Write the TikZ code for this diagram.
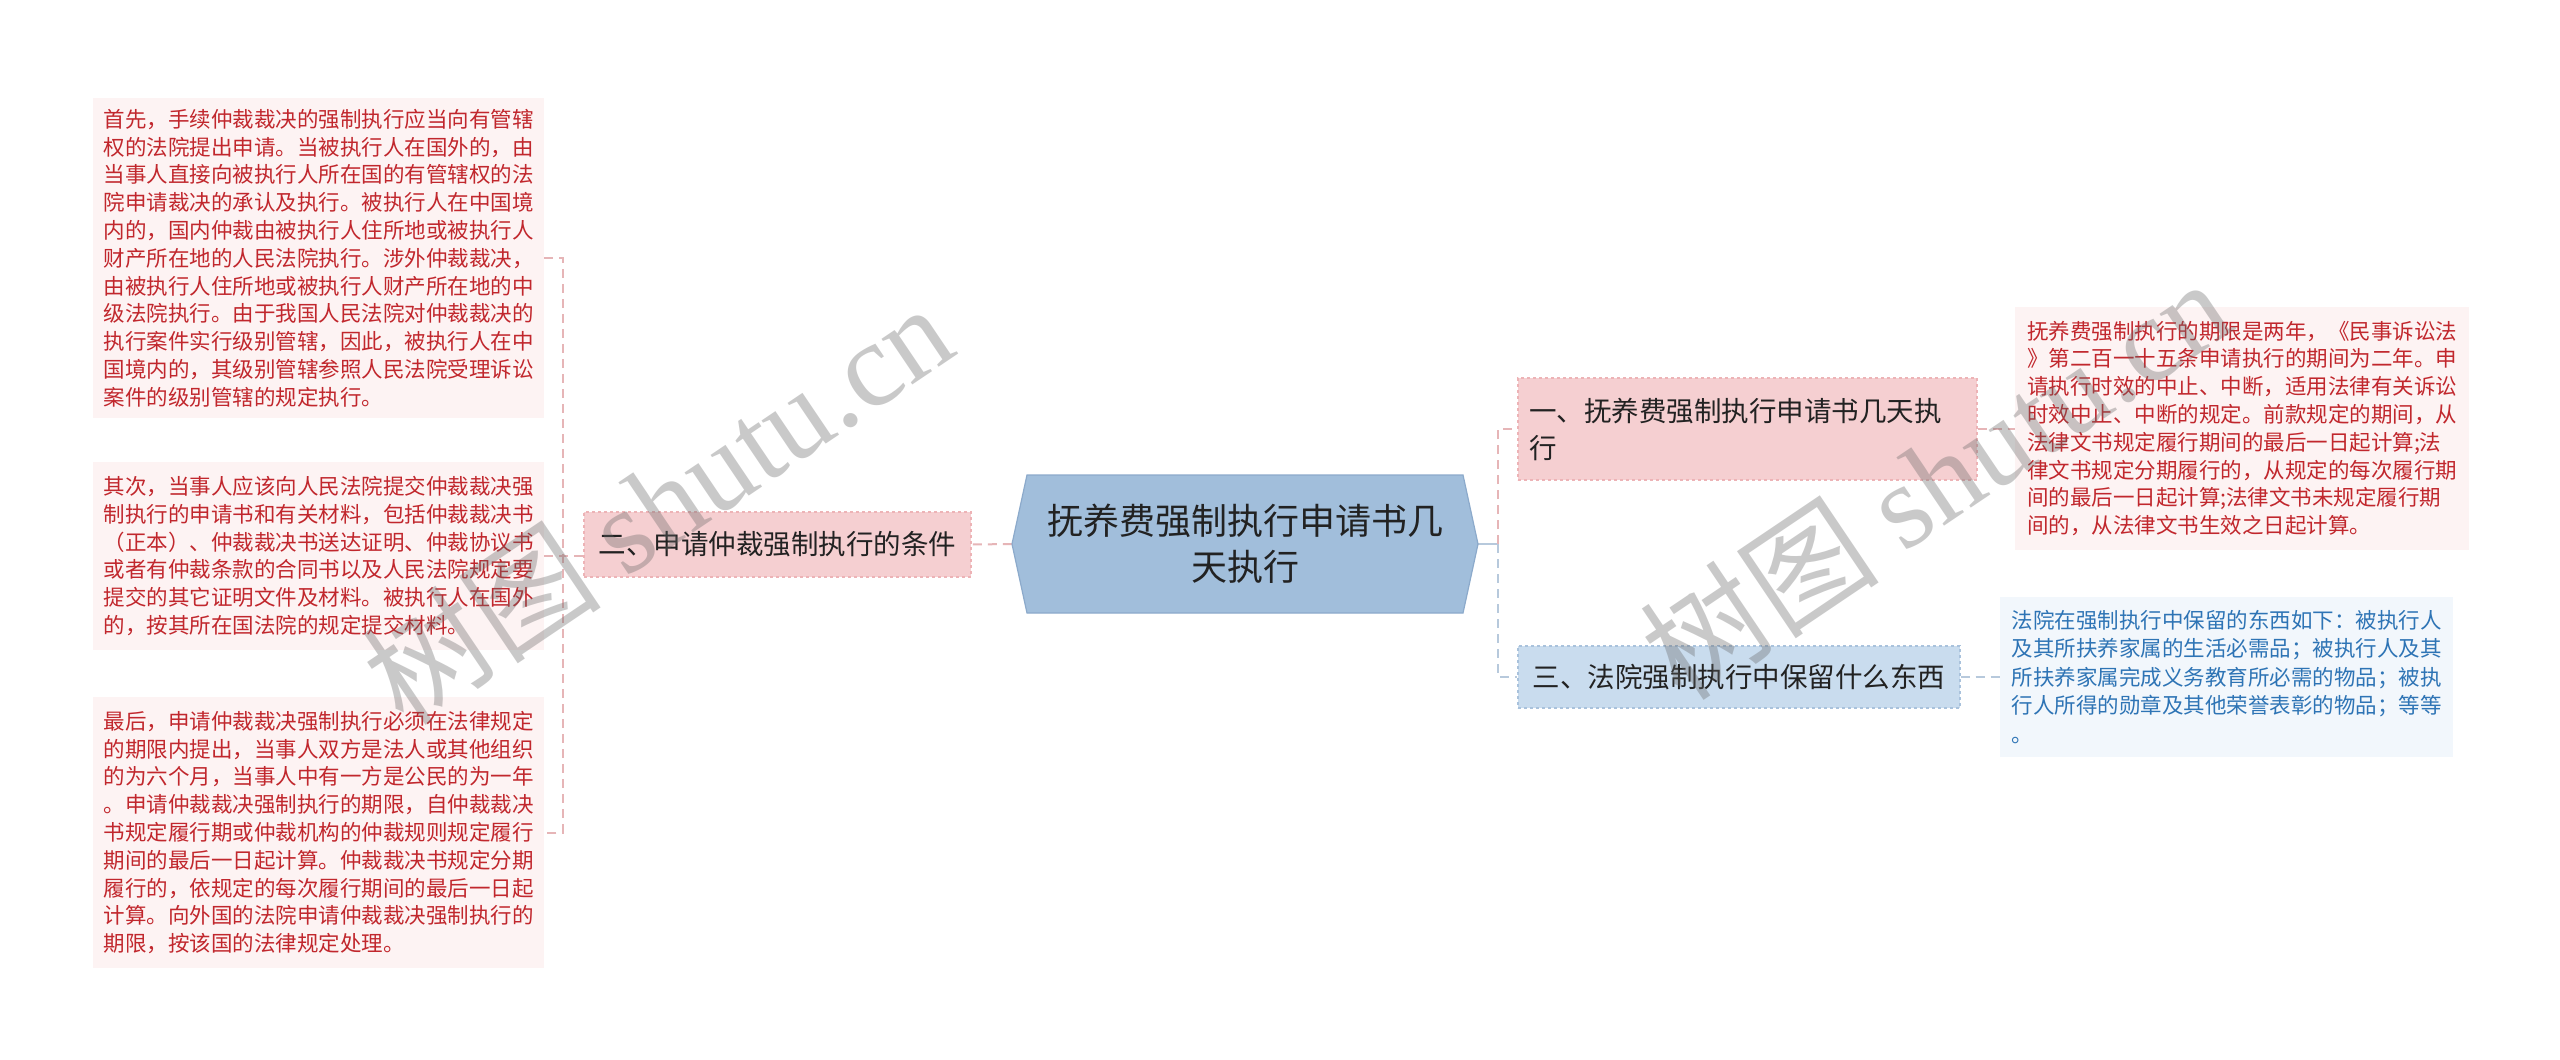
\documentclass[tikz,border=0pt]{standalone}
\usepackage{fontspec}
\setmainfont{Noto Sans CJK SC}
\newfontfamily\wmlatin{Liberation Serif}
\usetikzlibrary{calc,backgrounds}
\definecolor{pinknode}{HTML}{F5CFD1}
\definecolor{pinkborder}{HTML}{EDB3B6}
\definecolor{pinkleaf}{HTML}{FDF3F3}
\definecolor{redtxt}{HTML}{C1272D}
\definecolor{bluenode}{HTML}{C9DCEE}
\definecolor{blueborder}{HTML}{A9C2DC}
\definecolor{blueleaf}{HTML}{F2F7FC}
\definecolor{bluetxt}{HTML}{2E74B5}
\definecolor{rootfill}{HTML}{A1BEDB}
\definecolor{rootborder}{HTML}{8CAACB}
\definecolor{pinkline}{HTML}{E6B5B7}
\definecolor{blueline}{HTML}{B7C9DC}
\definecolor{nodetxt}{HTML}{222222}
\begin{document}
\begin{tikzpicture}[x=1pt,y=-1pt,
  leafred/.style={fill=pinkleaf, text=redtxt, font=\fontsize{21.5}{27.8}\selectfont, align=left, inner sep=0pt},
  leafblue/.style={fill=blueleaf, text=bluetxt, font=\fontsize{21.5}{28.5}\selectfont, align=left, inner sep=0pt},
  pinkbox/.style={fill=pinknode, draw=pinkborder, dashed, line width=1.2pt, text=nodetxt, font=\fontsize{27.5}{37}\selectfont, inner sep=0pt},
  bluebox/.style={fill=bluenode, draw=blueborder, dashed, line width=1.2pt, text=nodetxt, font=\fontsize{27.5}{37}\selectfont, inner sep=0pt},
  rootbox/.style={text=nodetxt, font=\fontsize{36}{46}\selectfont, align=center, inner sep=0pt},
  pinkconn/.style={draw=pinkline, line width=2pt, dash pattern=on 9pt off 6pt},
  blueconn/.style={draw=blueline, line width=2pt, dash pattern=on 9pt off 6pt},
  wm/.style={text=black!60, text opacity=0.35, font=\fontsize{120}{120}\selectfont, inner sep=0pt}
]
\useasboundingbox (0,0) rectangle (2560,1060);

% central topic
\filldraw[fill=rootfill, draw=rootborder, line width=1.2pt]
  (1012,544) -- (1027,475) -- (1463,475) -- (1478,544) -- (1463,613) -- (1027,613) -- cycle;
\node[rootbox, minimum width=466, minimum height=138] (root) at (1245,544)
  {抚养费强制执行申请书几\\天执行};

% left branch
\node[pinkbox, minimum width=387, minimum height=65] (er) at (777.5,544.5)
  {二、申请仲裁强制执行的条件};

\node[leafred, minimum width=451, minimum height=320] (l1) at (318.5,258)
  {首先，手续仲裁裁决的强制执行应当向有管辖\\
   权的法院提出申请。当被执行人在国外的，由\\
   当事人直接向被执行人所在国的有管辖权的法\\
   院申请裁决的承认及执行。被执行人在中国境\\
   内的，国内仲裁由被执行人住所地或被执行人\\
   财产所在地的人民法院执行。涉外仲裁裁决，\\
   由被执行人住所地或被执行人财产所在地的中\\
   级法院执行。由于我国人民法院对仲裁裁决的\\
   执行案件实行级别管辖，因此，被执行人在中\\
   国境内的，其级别管辖参照人民法院受理诉讼\\
   案件的级别管辖的规定执行。};

\node[leafred, minimum width=451, minimum height=188] (l2) at (318.5,556)
  {其次，当事人应该向人民法院提交仲裁裁决强\\
   制执行的申请书和有关材料，包括仲裁裁决书\\
   （正本）、仲裁裁决书送达证明、仲裁协议书\\
   或者有仲裁条款的合同书以及人民法院规定要\\
   提交的其它证明文件及材料。被执行人在国外\\
   的，按其所在国法院的规定提交材料。};

\node[leafred, minimum width=451, minimum height=271] (l3) at (318.5,832.5)
  {最后，申请仲裁裁决强制执行必须在法律规定\\
   的期限内提出，当事人双方是法人或其他组织\\
   的为六个月，当事人中有一方是公民的为一年\\
   。申请仲裁裁决强制执行的期限，自仲裁裁决\\
   书规定履行期或仲裁机构的仲裁规则规定履行\\
   期间的最后一日起计算。仲裁裁决书规定分期\\
   履行的，依规定的每次履行期间的最后一日起\\
   计算。向外国的法院申请仲裁裁决强制执行的\\
   期限，按该国的法律规定处理。};

% right branches
\node[pinkbox, minimum width=459, minimum height=102, text width=437, align=left] (n1) at (1747.5,429)
  {一、抚养费强制执行申请书几天执\\行};

\node[bluebox, minimum width=442, minimum height=62] (n3) at (1739,677)
  {三、法院强制执行中保留什么东西};

\node[leafred, minimum width=454, minimum height=243] (r1) at (2242,428.5)
  {抚养费强制执行的期限是两年，《民事诉讼法\\
   》第二百一十五条申请执行的期间为二年。申\\
   请执行时效的中止、中断，适用法律有关诉讼\\
   时效中止、中断的规定。前款规定的期间，从\\
   法律文书规定履行期间的最后一日起计算;法\\
   律文书规定分期履行的，从规定的每次履行期\\
   间的最后一日起计算;法律文书未规定履行期\\
   间的，从法律文书生效之日起计算。};

\node[leafblue, minimum width=453, minimum height=160] (r2) at (2226.5,677)
  {法院在强制执行中保留的东西如下：被执行人\\
   及其所扶养家属的生活必需品；被执行人及其\\
   所扶养家属完成义务教育所必需的物品；被执\\
   行人所得的勋章及其他荣誉表彰的物品；等等\\
   。};

% connectors
\coordinate (vl) at (563,0);
\coordinate (vr) at (1498,0);
\begin{pgfonlayer}{background}
  \fill[white] (0,0) rectangle (2560,1060);
  \draw[pinkconn] (root.west) -- (er.east);
  \draw[pinkconn] (l1.east) -- (l1.east -| vl) -- (l3.east -| vl) -- (l3.east);
  \draw[pinkconn] (l2.east) -- (er.west |- l2.east);
  \draw[draw=blueline, line width=2pt] (root.east) -- (root.east -| vr);
  \draw[pinkconn] (root.east -| vr) -- (n1.west -| vr) -- (n1.west);
  \draw[blueconn] (root.east -| vr) -- (n3.west -| vr) -- (n3.west);
  \draw[pinkconn] (n1.east) -- (r1.west |- n1.east);
  \draw[blueconn] (n3.east) -- (r2.west);
\end{pgfonlayer}

% watermarks
\node[wm, rotate=34] (wm1) at (657,503) {树图 {\wmlatin shutu.cn}};
\node[wm, rotate=34] (wm2) at (1935,478) {树图 {\wmlatin shutu.cn}};
\end{tikzpicture}
\end{document}
